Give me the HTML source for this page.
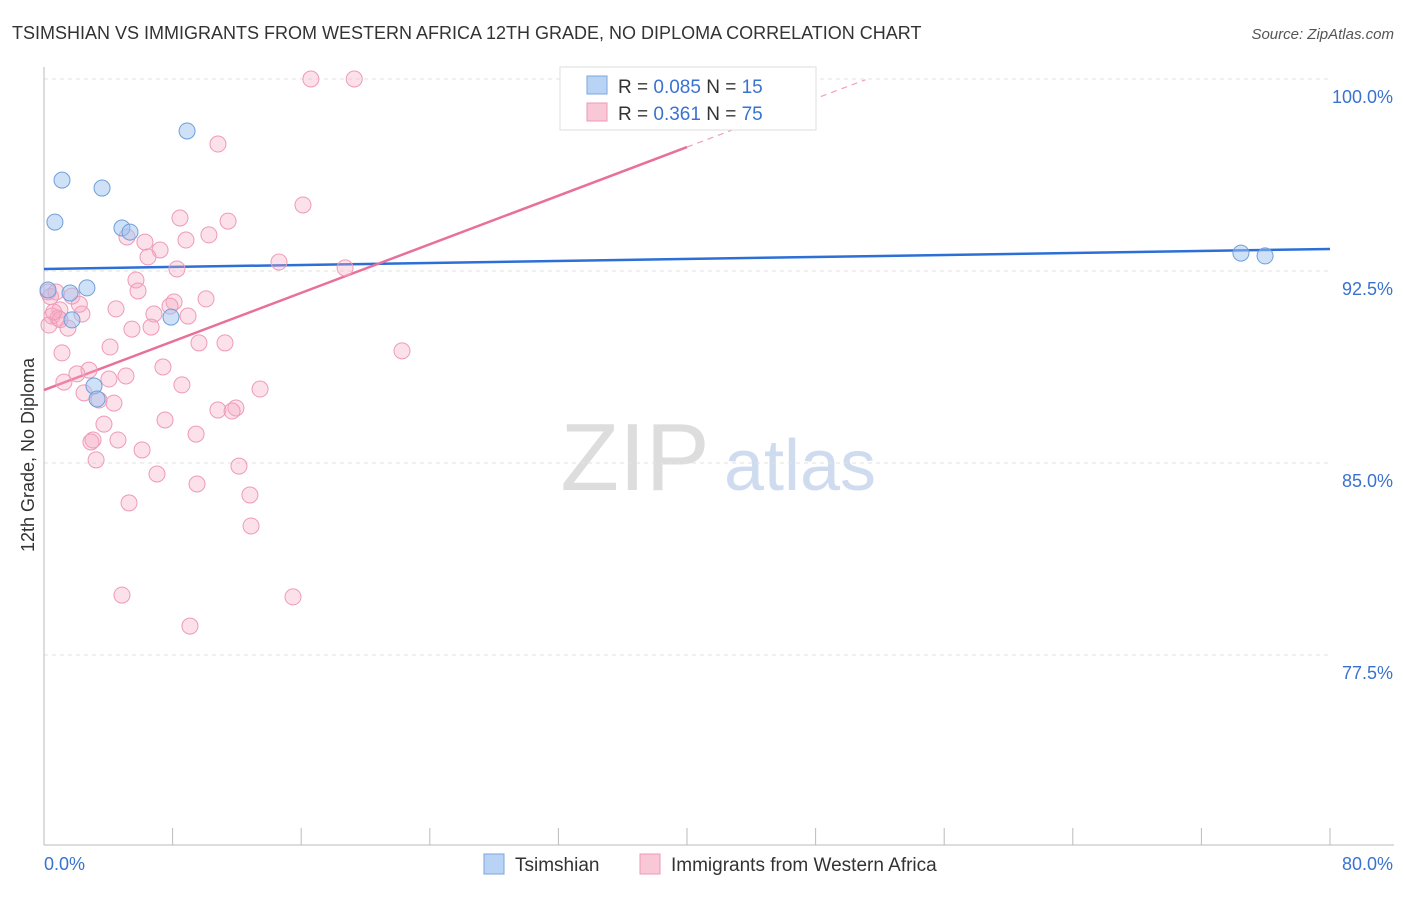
<!DOCTYPE html>
<html><head><meta charset="utf-8"><style>
body{margin:0;background:#fff;font-family:"Liberation Sans",sans-serif;}
svg text{font-family:"Liberation Sans",sans-serif;}
</style></head><body>
<svg id="chart" width="1406" height="892" viewBox="0 0 1406 892" xmlns="http://www.w3.org/2000/svg">
<text x="12" y="39" font-size="18" fill="#333">TSIMSHIAN VS IMMIGRANTS FROM WESTERN AFRICA 12TH GRADE, NO DIPLOMA CORRELATION CHART</text>
<text x="1394" y="39" font-size="15" fill="#555" text-anchor="end" font-style="italic">Source: ZipAtlas.com</text>
<text transform="translate(34,455) rotate(-90)" font-size="18" fill="#333" text-anchor="middle">12th Grade, No Diploma</text>
<g>
<text x="635" y="490" font-size="96" fill="#ddd" font-family="Liberation Serif" text-anchor="middle">ZIP</text>
<text x="800" y="490" font-size="72" fill="#cfdcf0" text-anchor="middle">atlas</text>
</g>
<g id="grid"></g><g id="axes"></g><g id="lines"></g><g id="points"></g>
<g>
<rect x="560" y="67" width="256" height="63" fill="#fff" stroke="#ddd"/>
<rect x="587" y="76" width="20" height="18" fill="#b9d3f5" stroke="#7aa6e0"/>
<text x="618" y="93" font-size="19" fill="#333">R = <tspan fill="#3a72d0">0.085</tspan>   N = <tspan fill="#3a72d0">15</tspan></text>
<rect x="587" y="103" width="20" height="18" fill="#f9c8d6" stroke="#ec9ab5"/>
<text x="618" y="120" font-size="19" fill="#333">R =  <tspan fill="#3a72d0">0.361</tspan>   N = <tspan fill="#3a72d0">75</tspan></text>
</g>
<g>
<rect x="484" y="854" width="20" height="20" fill="#b9d3f5" stroke="#7aa6e0"/>
<text x="515" y="871" font-size="19" fill="#333">Tsimshian</text>
<rect x="640" y="854" width="20" height="20" fill="#f9c8d6" stroke="#ec9ab5"/>
<text x="671" y="871" font-size="19" fill="#333">Immigrants from Western Africa</text>
</g>
</svg>
<script>
const yTicks=[100,92.5,85,77.5];
const yTickLabels=["100.0%","92.5%","85.0%","77.5%"];
const xTickVals=[0,8,16,24,32,40,48,56,64,72,80];
const blueX=[0.68,1.12,3.61,8.90,4.85,5.35,0.25,2.67,1.62,1.74,7.90,3.11,3.30,74.46,75.96];
const blueY=[94.41,96.05,95.74,97.97,94.18,94.02,91.76,91.84,91.64,90.59,90.70,88.01,87.50,93.20,93.09];
const pinkX=[16.6,19.3,33.5,10.82,16.11,8.46,11.45,10.26,5.16,6.28,8.83,7.22,6.47,14.62,8.27,18.73,5.72,5.85,0.25,0.75,1.74,10.08,8.09,7.84,0.99,4.48,2.36,0.50,0.87,6.84,8.96,0.31,1.49,5.47,6.66,9.64,11.26,4.11,1.12,22.27,7.40,2.80,2.05,5.10,4.04,1.24,8.58,13.44,2.49,3.42,4.35,11.94,10.82,11.70,7.53,3.73,9.46,3.05,4.60,2.92,6.10,3.24,12.13,7.03,9.52,12.81,5.29,12.88,4.85,15.49,9.08,0.4,1.0,2.2,0.6];
const pinkY=[100,100,100,97.46,95.08,94.57,94.45,93.91,93.83,93.63,93.71,93.32,93.05,92.85,92.58,92.62,92.15,91.72,91.68,91.68,91.52,91.41,91.29,91.13,90.98,91.02,90.82,90.74,90.66,90.82,90.74,90.39,90.27,90.23,90.31,89.69,89.69,89.53,89.30,89.38,88.75,88.63,88.48,88.40,88.28,88.16,88.05,87.89,87.74,87.46,87.34,87.15,87.07,87.03,86.68,86.52,86.13,85.90,85.90,85.82,85.51,85.12,84.88,84.57,84.18,83.75,83.44,82.54,79.84,79.77,78.63,91.5,90.6,91.2,90.9];
const blueLine=[92.58,93.36];
const pinkLine=[87.85,97.34,99.97];
const pinkLineX=[0,40,51.1];
const NS="http://www.w3.org/2000/svg";
const sx=v=>44+v*(1286/80);
const sy=v=>79+(100-v)*(192/7.5);
function mk(p,tag,at){const e=document.createElementNS(NS,tag);for(const k in at)e.setAttribute(k,at[k]);document.getElementById(p).appendChild(e);return e;}
yTicks.forEach((t,i)=>{
 const g=mk('grid','line',{x1:44,x2:1330,y1:sy(t),y2:sy(t),stroke:'#e2e2e2','stroke-dasharray':'4,4'});
 
 
 const tx=mk('axes','text',{x:1393,y:sy(t)+24,'font-size':18,fill:'#3a72d0','text-anchor':'end'});
 tx.textContent=yTickLabels[i];
 
 
});
const ax=mk('axes','line',{x1:44,x2:1394,y1:845,y2:845,stroke:'#bbb'});


const ay=mk('axes','line',{x1:44,x2:44,y1:67,y2:845,stroke:'#bbb'});


xTickVals.forEach(v=>{
 const t=mk('axes','line',{x1:sx(v),x2:sx(v),y1:828,y2:845,stroke:'#bbb'});
 
 
});
const x0=mk('axes','text',{x:44,y:870,'font-size':18,fill:'#3a72d0'});x0.textContent='0.0%';


const x1=mk('axes','text',{x:1393,y:870,'font-size':18,fill:'#3a72d0','text-anchor':'end'});x1.textContent='80.0%';


pinkX.forEach((v,i)=>{
 const c=mk('points','circle',{cx:sx(v),cy:sy(pinkY[i]),r:8,fill:'rgba(245,170,195,0.35)',stroke:'#ef9ab6','stroke-width':1});
 
 
});
blueX.forEach((v,i)=>{
 const c=mk('points','circle',{cx:sx(v),cy:sy(blueY[i]),r:8,fill:'rgba(160,195,240,0.5)',stroke:'#6f9fdc','stroke-width':1});
 
 
});
const bl=mk('lines','line',{x1:sx(0),y1:sy(blueLine[0]),x2:sx(80),y2:sy(blueLine[1]),stroke:'#2c6fd6','stroke-width':2.5});


const pl=mk('lines','line',{x1:sx(pinkLineX[0]),y1:sy(pinkLine[0]),x2:sx(pinkLineX[1]),y2:sy(pinkLine[1]),stroke:'#e8709a','stroke-width':2.5});


const pd=mk('lines','line',{x1:sx(pinkLineX[1]),y1:sy(pinkLine[1]),x2:sx(pinkLineX[2]),y2:sy(pinkLine[2]),stroke:'#f0a0ba','stroke-width':1.2,'stroke-dasharray':'6,5'});


</script>
</body></html>
